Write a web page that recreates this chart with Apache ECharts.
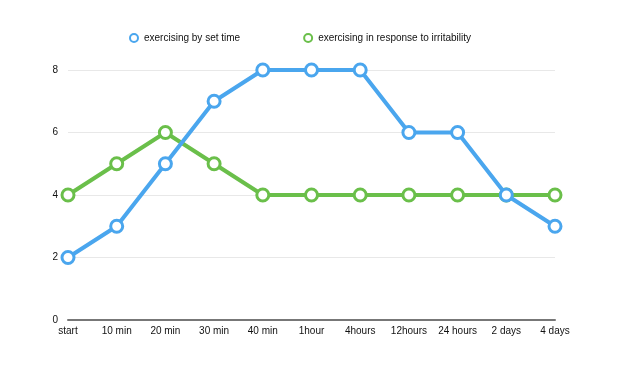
<!DOCTYPE html>
<html><head><meta charset="utf-8">
<script src="https://cdn.jsdelivr.net/npm/echarts@6/dist/echarts.min.js"></script>
<style>html,body{margin:0;padding:0;background:#fff}#c{width:634px;height:373px}</style>
</head><body><div id="c"></div>
<script>
const categories = ['start','10 min','20 min','30 min','40 min','1hour','4hours','12hours','24 hours','2 days','4 days'];
const setTime = [2,3,5,7,8,8,8,6,6,4,3];
const irritability = [4,5,6,5,4,4,4,4,4,4,4];
const yTicks = {min:0, max:8, interval:2};
const chart = echarts.init(document.getElementById('c'));
const font = 'Helvetica, "Liberation Sans", Arial, sans-serif';
function s(name, data, color, z){
  return {name, type:'line', data, symbol:'circle', symbolSize:12,
    lineStyle:{width:4,color}, itemStyle:{color:'#fff',borderColor:color,borderWidth:3},
    emphasis:{disabled:true}, z};
}
chart.setOption({
  animation:false,
  color:['#4aa6ee','#6abf4a'],
  legend:{top:28, left:124, itemGap:63, itemWidth:8, itemHeight:8, icon:'circle',
    textStyle:{fontFamily:font,fontSize:10,color:'#111',padding:[0,0,0,1]},
    data:[{name:'exercising by set time',itemStyle:{color:'#fff',borderColor:'#4aa6ee',borderWidth:2}},
          {name:'exercising in response to irritability',itemStyle:{color:'#fff',borderColor:'#6abf4a',borderWidth:2}}]},
  grid:{left:68,right:79,top:70,bottom:53,containLabel:false},
  xAxis:{type:'category',data:categories,boundaryGap:false,
    axisLine:{lineStyle:{color:'#777',width:2}},axisTick:{show:false},
    axisLabel:{fontFamily:font,fontSize:10,color:'#111',margin:6,interval:0},
    splitLine:{show:false}},
  yAxis:{type:'value',min:yTicks.min,max:yTicks.max,interval:yTicks.interval,
    axisLine:{show:false},axisTick:{show:false},
    axisLabel:{fontFamily:font,fontSize:10,color:'#111',margin:10},
    splitLine:{lineStyle:{color:'#e8e8e8',width:1}}},
  series:[s('exercising in response to irritability',irritability,'#6abf4a',2), s('exercising by set time',setTime,'#4aa6ee',3)]
});
</script></body></html>
